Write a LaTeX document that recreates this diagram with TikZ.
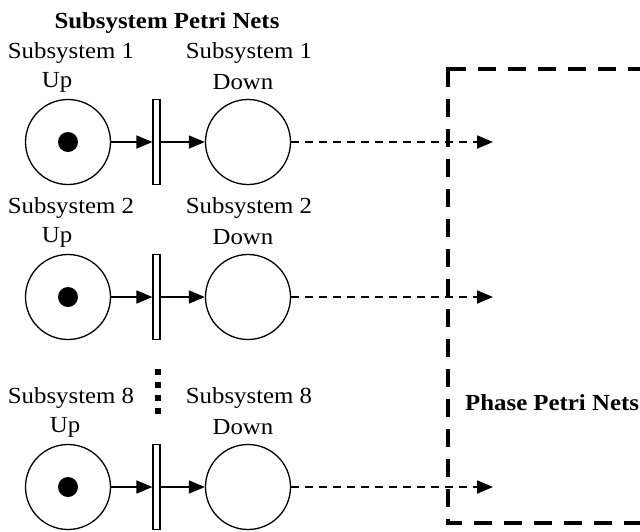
\documentclass[tikz,border=0pt]{standalone}
\usepackage{fontspec}
\setmainfont[FakeStretch=1.08]{Liberation Serif}
\usetikzlibrary{arrows.meta}
\begin{document}
\begin{tikzpicture}[x=1pt,y=-1pt,
  place/.style={circle,draw,line width=1.3pt,minimum size=85pt,inner sep=0pt},
  token/.style={circle,fill=black,minimum size=20pt,inner sep=0pt},
  trans/.style={rectangle,draw,line width=1.2pt,minimum width=7pt,minimum height=85pt,inner sep=0pt},
  lbl/.style={font=\fontsize{23}{25}\selectfont,inner sep=0pt},
  ttl/.style={font=\fontsize{23}{25}\selectfont\bfseries,inner sep=0pt},
  arc/.style={line width=1.5pt,-{Triangle[length=16pt,width=13pt]}},
  outarc/.style={line width=1.8pt,dash pattern=on 8pt off 6pt,-{Triangle[length=16pt,width=13pt]}},
  frame/.style={line width=3.5pt,dash pattern=on 18pt off 12pt}]
\useasboundingbox (0,0) rectangle (640,531);

\node[ttl] (title) at (167,23) {Subsystem Petri Nets};

\foreach \r/\y/\n/\ux in {a/142/1/57,b/297/2/57,c/487/8/65}{
  \node[place] (up\r) at (68,\y) {};
  \node[token] (tok\r) at (up\r) {};
  \node[trans] (t\r) at (156.5,\y) {};
  \node[place] (dn\r) at (248,\y) {};
  \coordinate (end\r) at (493,\y);
  \node[lbl] (lu\r) at (71,\y-89) {Subsystem \n};
  \node[lbl] (lup\r) at (\ux,\y-60) {Up};
  \node[lbl] (ld\r) at (249,\y-89) {Subsystem \n};
  \node[lbl] (ldn\r) at (243,\y-60) {Down};
  \draw[arc] (up\r) -- (t\r);
  \draw[arc] (t\r) -- (dn\r);
  \draw[outarc] (dn\r) -- (end\r);
}

\foreach \yy in {372,385,398,411}{
  \fill (155,\yy-2.7) rectangle (161,\yy+2.7);
}

\draw[frame] (448,69) -- (640,69);
\draw[frame] (448,69) -- (448,523) -- (640,523);
\fill (446.25,67.25) rectangle (449.75,70.75);

\node[ttl,anchor=west] (phase) at (465,403) {Phase Petri Nets};
\end{tikzpicture}
\end{document}
